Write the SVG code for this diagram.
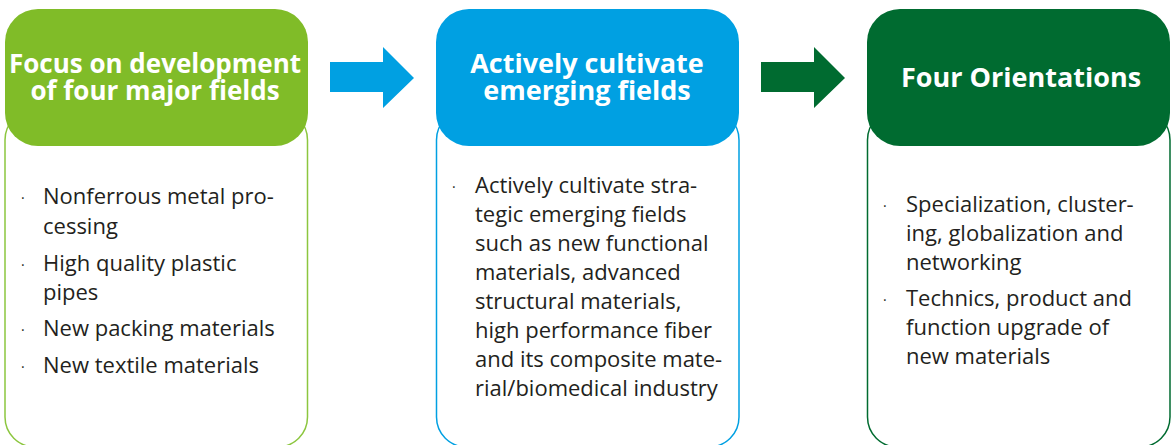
<svg xmlns="http://www.w3.org/2000/svg" width="1171" height="445" viewBox="0 0 1171 445">
<style>
.hd{font-family:"Open Sans","Liberation Sans",sans-serif;font-weight:bold;font-size:27px;fill:#fff;text-anchor:middle}
.bd{font-family:"Open Sans","Liberation Sans",sans-serif;font-size:22px;fill:#231f20}
.bl{font-family:"Open Sans","Liberation Sans",sans-serif;font-size:14px;fill:#231f20}
.box{fill:#fff;stroke-width:1.5}
</style>
<rect width="1171" height="445" fill="#fff"/>
<g id="connectors">
<polygon points="330,62 383,62 383,47 414,78 383,108 383,92 330,92" fill="#00a0e2"/>
<polygon points="761,62 814,62 814,47 845,78 814,108 814,92 761,92" fill="#006b30"/>
</g>
<g id="node1">
<rect class="box" x="5" y="110" width="302.5" height="337" rx="30" stroke="#8cc63f"/>
<rect x="5" y="9" width="303" height="137" rx="33" fill="#80bc28"/>
<text class="hd" style="font-size:26px"><tspan x="155" y="73">Focus on development</tspan><tspan x="155" y="100">of four major fields</tspan></text>
<text class="bl" x="21" y="203">·</text>
<text class="bd" x="43" y="204">Nonferrous metal pro-</text>
<text class="bd" x="43" y="234">cessing</text>
<text class="bl" x="21" y="270">·</text>
<text class="bd" x="43" y="271">High quality plastic</text>
<text class="bd" x="43" y="300">pipes</text>
<text class="bl" x="21" y="335">·</text>
<text class="bd" x="43" y="336">New packing materials</text>
<text class="bl" x="21" y="372">·</text>
<text class="bd" x="43" y="373">New textile materials</text>
</g>
<g id="node2">
<rect class="box" x="436.5" y="110" width="302.5" height="337" rx="30" stroke="#00a0e2"/>
<rect x="436" y="9" width="303" height="137" rx="33" fill="#00a0e2"/>
<text class="hd"><tspan x="587" y="73">Actively cultivate</tspan><tspan x="587" y="100">emerging fields</tspan></text>
<text class="bl" x="452" y="192">·</text>
<text class="bd" x="475" y="193">Actively cultivate stra-</text>
<text class="bd" x="475" y="222">tegic emerging fields</text>
<text class="bd" x="475" y="251">such as new functional</text>
<text class="bd" x="475" y="280">materials, advanced</text>
<text class="bd" x="475" y="309">structural materials,</text>
<text class="bd" x="475" y="338">high performance fiber</text>
<text class="bd" x="475" y="367">and its composite mate-</text>
<text class="bd" x="475" y="396">rial/biomedical industry</text>
</g>
<g id="node3">
<rect class="box" x="867.5" y="110" width="302.5" height="337" rx="30" stroke="#006b30"/>
<rect x="867" y="9" width="303" height="137" rx="33" fill="#006b30"/>
<text class="hd" x="1021" y="87">Four Orientations</text>
<text class="bl" x="883" y="211">·</text>
<text class="bd" x="906" y="212">Specialization, cluster-</text>
<text class="bd" x="906" y="241">ing, globalization and</text>
<text class="bd" x="906" y="270">networking</text>
<text class="bl" x="883" y="305">·</text>
<text class="bd" x="906" y="306">Technics, product and</text>
<text class="bd" x="906" y="335">function upgrade of</text>
<text class="bd" x="906" y="364">new materials</text>
</g>
</svg>
